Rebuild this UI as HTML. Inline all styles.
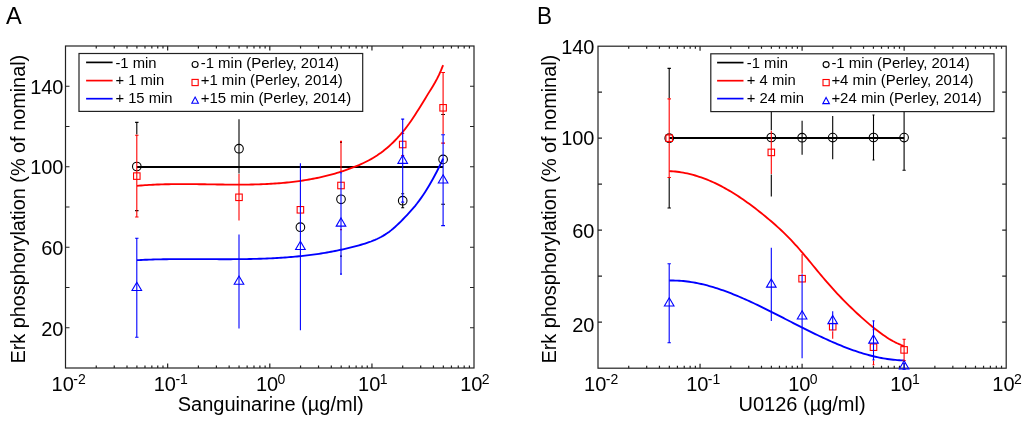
<!DOCTYPE html>
<html><head><meta charset="utf-8"><style>
html,body{margin:0;padding:0;background:#fff;}
svg{display:block;will-change:transform;}
text{font-family:'Liberation Sans',sans-serif;fill:#000;}
</style></head><body>
<svg width="1024" height="422" viewBox="0 0 1024 422">
<rect x="65.5" y="46" width="408.5" height="322" fill="none" stroke="#222" stroke-width="1.2"/>
<path d="M96.25 368v-2.5M96.25 46v2.5M114.24 368v-2.5M114.24 46v2.5M127.00 368v-2.5M127.00 46v2.5M136.90 368v-2.5M136.90 46v2.5M144.99 368v-2.5M144.99 46v2.5M151.83 368v-2.5M151.83 46v2.5M157.75 368v-2.5M157.75 46v2.5M162.98 368v-2.5M162.98 46v2.5M167.65 368v-4.5M167.65 46v4.5M198.40 368v-2.5M198.40 46v2.5M216.39 368v-2.5M216.39 46v2.5M229.15 368v-2.5M229.15 46v2.5M239.05 368v-2.5M239.05 46v2.5M247.14 368v-2.5M247.14 46v2.5M253.98 368v-2.5M253.98 46v2.5M259.90 368v-2.5M259.90 46v2.5M265.13 368v-2.5M265.13 46v2.5M269.80 368v-4.5M269.80 46v4.5M300.55 368v-2.5M300.55 46v2.5M318.54 368v-2.5M318.54 46v2.5M331.30 368v-2.5M331.30 46v2.5M341.20 368v-2.5M341.20 46v2.5M349.29 368v-2.5M349.29 46v2.5M356.13 368v-2.5M356.13 46v2.5M362.05 368v-2.5M362.05 46v2.5M367.28 368v-2.5M367.28 46v2.5M371.95 368v-4.5M371.95 46v4.5M402.70 368v-2.5M402.70 46v2.5M420.69 368v-2.5M420.69 46v2.5M433.45 368v-2.5M433.45 46v2.5M443.35 368v-2.5M443.35 46v2.5M451.44 368v-2.5M451.44 46v2.5M458.28 368v-2.5M458.28 46v2.5M464.20 368v-2.5M464.20 46v2.5M469.43 368v-2.5M469.43 46v2.5M65.5 327.75h4M474 327.75h-4M65.5 287.50h4M474 287.50h-4M65.5 247.25h4M474 247.25h-4M65.5 207.00h4M474 207.00h-4M65.5 166.75h4M474 166.75h-4M65.5 126.50h4M474 126.50h-4M65.5 86.25h4M474 86.25h-4" stroke="#222" stroke-width="1.2" fill="none"/>
<line x1="136.8" y1="167" x2="443.1" y2="167" stroke="#000" stroke-width="1.85"/>
<polyline points="137.00,185.80 139.00,185.63 141.00,185.47 143.00,185.32 145.00,185.18 147.00,185.05 149.00,184.93 151.00,184.82 153.00,184.72 155.00,184.63 157.00,184.54 159.00,184.47 161.00,184.40 163.00,184.34 165.00,184.29 167.00,184.24 169.00,184.21 171.00,184.17 173.00,184.15 175.00,184.13 177.00,184.11 179.00,184.10 181.00,184.10 183.00,184.09 185.00,184.10 187.00,184.11 189.00,184.12 191.00,184.13 193.00,184.15 195.00,184.17 197.00,184.19 199.00,184.21 201.00,184.24 203.00,184.26 205.00,184.29 207.00,184.32 209.00,184.35 211.00,184.38 213.00,184.41 215.00,184.44 217.00,184.46 219.00,184.49 221.00,184.52 223.00,184.54 225.00,184.56 227.00,184.58 229.00,184.60 231.00,184.61 233.00,184.62 235.00,184.63 237.00,184.63 239.00,184.63 241.00,184.62 243.00,184.61 245.00,184.60 247.00,184.58 249.00,184.55 251.00,184.52 253.00,184.48 255.00,184.43 257.00,184.38 259.00,184.32 261.00,184.25 263.00,184.17 265.00,184.09 267.00,183.99 269.00,183.89 271.00,183.78 273.00,183.66 275.00,183.53 277.00,183.39 279.00,183.24 281.00,183.08 283.00,182.90 285.00,182.72 287.00,182.52 289.00,182.32 291.00,182.10 293.00,181.86 295.00,181.62 297.00,181.36 299.00,181.09 301.00,180.80 303.00,180.50 305.00,180.19 307.00,179.86 309.00,179.51 311.00,179.15 313.00,178.78 315.00,178.39 317.00,177.98 319.00,177.55 321.00,177.11 323.00,176.65 325.00,176.18 327.00,175.68 329.00,175.17 331.00,174.64 333.00,174.09 335.00,173.52 337.00,172.93 339.00,172.32 341.00,171.70 343.00,171.05 345.00,170.38 347.00,169.69 349.00,168.98 351.00,168.24 353.00,167.49 355.00,166.70 357.00,165.89 359.00,165.04 361.00,164.16 363.00,163.24 365.00,162.28 367.00,161.27 369.00,160.21 371.00,159.10 373.00,157.93 375.00,156.70 377.00,155.42 379.00,154.06 381.00,152.64 383.00,151.15 385.00,149.58 387.00,147.93 389.00,146.21 391.00,144.39 393.00,142.50 395.00,140.50 397.00,138.42 399.00,136.24 401.00,133.96 403.00,131.57 405.00,129.08 407.00,126.47 409.00,123.76 411.00,120.92 413.00,117.98 415.00,114.94 417.00,111.83 419.00,108.65 421.00,105.42 423.00,102.17 425.00,98.90 427.00,95.63 429.00,92.37 431.00,89.15 433.00,85.91 435.00,82.53 437.00,78.91 439.00,74.92 441.00,70.46 443.00,65.40 443.10,65.12" fill="none" stroke="#ff0000" stroke-width="1.85" stroke-linejoin="round"/>
<polyline points="137.00,260.16 139.00,260.05 141.00,259.96 143.00,259.87 145.00,259.78 147.00,259.71 149.00,259.63 151.00,259.57 153.00,259.51 155.00,259.45 157.00,259.40 159.00,259.35 161.00,259.31 163.00,259.27 165.00,259.24 167.00,259.21 169.00,259.19 171.00,259.16 173.00,259.14 175.00,259.13 177.00,259.12 179.00,259.11 181.00,259.10 183.00,259.09 185.00,259.09 187.00,259.09 189.00,259.09 191.00,259.10 193.00,259.10 195.00,259.11 197.00,259.11 199.00,259.12 201.00,259.13 203.00,259.14 205.00,259.14 207.00,259.15 209.00,259.16 211.00,259.17 213.00,259.18 215.00,259.19 217.00,259.19 219.00,259.20 221.00,259.20 223.00,259.20 225.00,259.20 227.00,259.20 229.00,259.20 231.00,259.20 233.00,259.19 235.00,259.18 237.00,259.16 239.00,259.15 241.00,259.13 243.00,259.10 245.00,259.08 247.00,259.05 249.00,259.01 251.00,258.98 253.00,258.93 255.00,258.88 257.00,258.83 259.00,258.78 261.00,258.71 263.00,258.65 265.00,258.57 267.00,258.49 269.00,258.41 271.00,258.32 273.00,258.22 275.00,258.12 277.00,258.01 279.00,257.89 281.00,257.76 283.00,257.63 285.00,257.49 287.00,257.35 289.00,257.19 291.00,257.03 293.00,256.86 295.00,256.68 297.00,256.49 299.00,256.29 301.00,256.08 303.00,255.87 305.00,255.64 307.00,255.41 309.00,255.17 311.00,254.91 313.00,254.65 315.00,254.37 317.00,254.09 319.00,253.79 321.00,253.48 323.00,253.17 325.00,252.84 327.00,252.49 329.00,252.14 331.00,251.78 333.00,251.40 335.00,251.01 337.00,250.61 339.00,250.19 341.00,249.77 343.00,249.33 345.00,248.87 347.00,248.40 349.00,247.92 351.00,247.43 353.00,246.92 355.00,246.40 357.00,245.86 359.00,245.31 361.00,244.74 363.00,244.15 365.00,243.54 367.00,242.90 369.00,242.22 371.00,241.50 373.00,240.72 375.00,239.89 377.00,238.99 379.00,238.03 381.00,236.98 383.00,235.85 385.00,234.63 387.00,233.32 389.00,231.90 391.00,230.37 393.00,228.73 395.00,227.00 397.00,225.17 399.00,223.27 401.00,221.30 403.00,219.27 405.00,217.19 407.00,215.08 409.00,212.93 411.00,210.73 413.00,208.44 415.00,206.05 417.00,203.53 419.00,200.89 421.00,198.12 423.00,195.22 425.00,192.19 427.00,189.03 429.00,185.73 431.00,182.30 433.00,178.74 435.00,175.04 437.00,171.20 439.00,167.22 441.00,163.10 443.00,158.83 443.10,158.62" fill="none" stroke="#0000ff" stroke-width="1.85" stroke-linejoin="round"/>
<path d="M136.80 122.40V134.60M135.10 122.40h3.4M135.10 210.60h3.4" stroke="#000" stroke-width="1.1" fill="none"/>
<path d="M239.00 119.30V173.50" stroke="#000" stroke-width="1.1" fill="none"/>
<path d="" stroke="#000" stroke-width="1.1" fill="none"/>
<path d="M340.00 142.50h2.0M340.00 256.10h2.0" stroke="#000" stroke-width="1.1" fill="none"/>
<path d="M402.70 202.70V207.70M401.20 193.70h3.0M401.20 207.70h3.0" stroke="#000" stroke-width="1.1" fill="none"/>
<path d="M441.20 114.50h3.8M441.20 204.30h3.8" stroke="#000" stroke-width="1.1" fill="none"/>
<circle cx="136.80" cy="166.50" r="4.3" fill="none" stroke="#000" stroke-width="1.1"/>
<circle cx="239.00" cy="148.70" r="4.3" fill="none" stroke="#000" stroke-width="1.1"/>
<circle cx="300.40" cy="227.20" r="4.3" fill="none" stroke="#000" stroke-width="1.1"/>
<circle cx="341.00" cy="199.30" r="4.3" fill="none" stroke="#000" stroke-width="1.1"/>
<circle cx="402.70" cy="200.70" r="4.3" fill="none" stroke="#000" stroke-width="1.1"/>
<circle cx="443.10" cy="159.40" r="4.3" fill="none" stroke="#000" stroke-width="1.1"/>
<path d="M136.80 135.20V217.00M135.10 135.20h3.4M135.10 217.00h3.4" stroke="#ff0000" stroke-width="1.1" fill="none"/>
<path d="M239.00 174.10V220.50" stroke="#ff0000" stroke-width="1.1" fill="none"/>
<path d="" stroke="#ff0000" stroke-width="1.1" fill="none"/>
<path d="M341.00 141.40V172.10M340.00 141.40h2.0M340.00 229.60h2.0" stroke="#ff0000" stroke-width="1.1" fill="none"/>
<path d="M401.20 133.50h3.0M401.20 155.50h3.0" stroke="#ff0000" stroke-width="1.1" fill="none"/>
<path d="M443.10 72.50V134.20M441.20 72.50h3.8M441.20 143.10h3.8" stroke="#ff0000" stroke-width="1.1" fill="none"/>
<rect x="133.55" y="172.85" width="6.5" height="6.5" fill="none" stroke="#ff0000" stroke-width="1.1"/>
<rect x="235.75" y="194.05" width="6.5" height="6.5" fill="none" stroke="#ff0000" stroke-width="1.1"/>
<rect x="297.15" y="206.55" width="6.5" height="6.5" fill="none" stroke="#ff0000" stroke-width="1.1"/>
<rect x="337.75" y="182.25" width="6.5" height="6.5" fill="none" stroke="#ff0000" stroke-width="1.1"/>
<rect x="399.45" y="141.25" width="6.5" height="6.5" fill="none" stroke="#ff0000" stroke-width="1.1"/>
<rect x="439.85" y="104.55" width="6.5" height="6.5" fill="none" stroke="#ff0000" stroke-width="1.1"/>
<path d="M136.80 238.20V337.20M135.10 238.20h3.4M135.10 337.20h3.4" stroke="#0000ff" stroke-width="1.1" fill="none"/>
<path d="M239.00 234.50V328.50" stroke="#0000ff" stroke-width="1.1" fill="none"/>
<path d="M300.40 163.30V330.30" stroke="#0000ff" stroke-width="1.1" fill="none"/>
<path d="M341.00 172.70V274.10M340.00 172.70h2.0M340.00 274.10h2.0" stroke="#0000ff" stroke-width="1.1" fill="none"/>
<path d="M402.70 119.10V202.10M401.20 119.10h3.0M401.20 202.10h3.0" stroke="#0000ff" stroke-width="1.1" fill="none"/>
<path d="M443.10 134.80V225.60M441.20 134.80h3.8M441.20 225.60h3.8" stroke="#0000ff" stroke-width="1.1" fill="none"/>
<path d="M136.80 282.23L141.60 290.43L132.00 290.43Z" fill="none" stroke="#0000ff" stroke-width="1.1" stroke-linejoin="miter"/>
<path d="M239.00 276.03L243.80 284.23L234.20 284.23Z" fill="none" stroke="#0000ff" stroke-width="1.1" stroke-linejoin="miter"/>
<path d="M300.40 241.33L305.20 249.53L295.60 249.53Z" fill="none" stroke="#0000ff" stroke-width="1.1" stroke-linejoin="miter"/>
<path d="M341.00 217.93L345.80 226.13L336.20 226.13Z" fill="none" stroke="#0000ff" stroke-width="1.1" stroke-linejoin="miter"/>
<path d="M402.70 155.13L407.50 163.33L397.90 163.33Z" fill="none" stroke="#0000ff" stroke-width="1.1" stroke-linejoin="miter"/>
<path d="M443.10 174.73L447.90 182.93L438.30 182.93Z" fill="none" stroke="#0000ff" stroke-width="1.1" stroke-linejoin="miter"/>
<rect x="598" y="46.2" width="408.20000000000005" height="322.0" fill="none" stroke="#222" stroke-width="1.2"/>
<path d="M628.72 368.2v-2.5M628.72 46.2v2.5M646.69 368.2v-2.5M646.69 46.2v2.5M659.44 368.2v-2.5M659.44 46.2v2.5M669.33 368.2v-2.5M669.33 46.2v2.5M677.41 368.2v-2.5M677.41 46.2v2.5M684.24 368.2v-2.5M684.24 46.2v2.5M690.16 368.2v-2.5M690.16 46.2v2.5M695.38 368.2v-2.5M695.38 46.2v2.5M700.05 368.2v-4.5M700.05 46.2v4.5M730.77 368.2v-2.5M730.77 46.2v2.5M748.74 368.2v-2.5M748.74 46.2v2.5M761.49 368.2v-2.5M761.49 46.2v2.5M771.38 368.2v-2.5M771.38 46.2v2.5M779.46 368.2v-2.5M779.46 46.2v2.5M786.29 368.2v-2.5M786.29 46.2v2.5M792.21 368.2v-2.5M792.21 46.2v2.5M797.43 368.2v-2.5M797.43 46.2v2.5M802.10 368.2v-4.5M802.10 46.2v4.5M832.82 368.2v-2.5M832.82 46.2v2.5M850.79 368.2v-2.5M850.79 46.2v2.5M863.54 368.2v-2.5M863.54 46.2v2.5M873.43 368.2v-2.5M873.43 46.2v2.5M881.51 368.2v-2.5M881.51 46.2v2.5M888.34 368.2v-2.5M888.34 46.2v2.5M894.26 368.2v-2.5M894.26 46.2v2.5M899.48 368.2v-2.5M899.48 46.2v2.5M904.15 368.2v-4.5M904.15 46.2v4.5M934.87 368.2v-2.5M934.87 46.2v2.5M952.84 368.2v-2.5M952.84 46.2v2.5M965.59 368.2v-2.5M965.59 46.2v2.5M975.48 368.2v-2.5M975.48 46.2v2.5M983.56 368.2v-2.5M983.56 46.2v2.5M990.39 368.2v-2.5M990.39 46.2v2.5M996.31 368.2v-2.5M996.31 46.2v2.5M1001.53 368.2v-2.5M1001.53 46.2v2.5M598 322.20h4M1006.2 322.20h-4M598 276.20h4M1006.2 276.20h-4M598 230.20h4M1006.2 230.20h-4M598 184.20h4M1006.2 184.20h-4M598 138.20h4M1006.2 138.20h-4M598 92.20h4M1006.2 92.20h-4" stroke="#222" stroke-width="1.2" fill="none"/>
<line x1="669.2" y1="138" x2="904.1" y2="138" stroke="#000" stroke-width="1.85"/>
<polyline points="669.20,171.12 671.20,171.22 673.20,171.36 675.20,171.54 677.20,171.77 679.20,172.03 681.20,172.33 683.20,172.67 685.20,173.04 687.20,173.46 689.20,173.92 691.20,174.41 693.20,174.94 695.20,175.51 697.20,176.11 699.20,176.76 701.20,177.44 703.20,178.15 705.20,178.90 707.20,179.69 709.20,180.51 711.20,181.37 713.20,182.26 715.20,183.18 717.20,184.14 719.20,185.14 721.20,186.17 723.20,187.23 725.20,188.32 727.20,189.45 729.20,190.61 731.20,191.80 733.20,193.02 735.20,194.27 737.20,195.55 739.20,196.86 741.20,198.20 743.20,199.57 745.20,200.96 747.20,202.39 749.20,203.83 751.20,205.31 753.20,206.80 755.20,208.32 757.20,209.87 759.20,211.44 761.20,213.03 763.20,214.64 765.20,216.28 767.20,217.93 769.20,219.61 771.20,221.31 773.20,223.04 775.20,224.81 777.20,226.60 779.20,228.42 781.20,230.29 783.20,232.19 785.20,234.13 787.20,236.11 789.20,238.14 791.20,240.21 793.20,242.33 795.20,244.51 797.20,246.73 799.20,249.00 801.20,251.31 803.20,253.66 805.20,256.04 807.20,258.44 809.20,260.85 811.20,263.28 813.20,265.72 815.20,268.15 817.20,270.58 819.20,273.00 821.20,275.40 823.20,277.77 825.20,280.12 827.20,282.44 829.20,284.72 831.20,286.97 833.20,289.18 835.20,291.37 837.20,293.52 839.20,295.64 841.20,297.74 843.20,299.80 845.20,301.83 847.20,303.84 849.20,305.82 851.20,307.77 853.20,309.69 855.20,311.59 857.20,313.46 859.20,315.30 861.20,317.12 863.20,318.91 865.20,320.67 867.20,322.40 869.20,324.10 871.20,325.77 873.20,327.41 875.20,329.01 877.20,330.57 879.20,332.08 881.20,333.55 883.20,334.98 885.20,336.35 887.20,337.66 889.20,338.92 891.20,340.11 893.20,341.24 895.20,342.30 897.20,343.28 899.20,344.19 901.20,345.01 903.20,345.75 904.10,346.06" fill="none" stroke="#ff0000" stroke-width="1.85" stroke-linejoin="round"/>
<polyline points="669.30,280.54 671.30,280.51 673.30,280.51 675.30,280.55 677.30,280.62 679.30,280.73 681.30,280.87 683.30,281.04 685.30,281.25 687.30,281.49 689.30,281.76 691.30,282.05 693.30,282.38 695.30,282.74 697.30,283.13 699.30,283.54 701.30,283.99 703.30,284.46 705.30,284.95 707.30,285.47 709.30,286.02 711.30,286.59 713.30,287.18 715.30,287.80 717.30,288.43 719.30,289.09 721.30,289.78 723.30,290.48 725.30,291.20 727.30,291.94 729.30,292.70 731.30,293.48 733.30,294.27 735.30,295.08 737.30,295.91 739.30,296.75 741.30,297.61 743.30,298.48 745.30,299.37 747.30,300.26 749.30,301.17 751.30,302.10 753.30,303.03 755.30,303.97 757.30,304.93 759.30,305.89 761.30,306.86 763.30,307.84 765.30,308.83 767.30,309.82 769.30,310.82 771.30,311.83 773.30,312.83 775.30,313.85 777.30,314.87 779.30,315.89 781.30,316.91 783.30,317.93 785.30,318.96 787.30,319.98 789.30,321.01 791.30,322.03 793.30,323.06 795.30,324.08 797.30,325.10 799.30,326.12 801.30,327.13 803.30,328.14 805.30,329.14 807.30,330.14 809.30,331.13 811.30,332.12 813.30,333.09 815.30,334.07 817.30,335.03 819.30,335.98 821.30,336.93 823.30,337.86 825.30,338.78 827.30,339.70 829.30,340.60 831.30,341.49 833.30,342.36 835.30,343.22 837.30,344.07 839.30,344.91 841.30,345.72 843.30,346.53 845.30,347.31 847.30,348.08 849.30,348.83 851.30,349.57 853.30,350.28 855.30,350.98 857.30,351.65 859.30,352.31 861.30,352.94 863.30,353.55 865.30,354.14 867.30,354.71 869.30,355.25 871.30,355.77 873.30,356.27 875.30,356.74 877.30,357.18 879.30,357.60 881.30,357.99 883.30,358.36 885.30,358.69 887.30,359.00 889.30,359.28 891.30,359.53 893.30,359.75 895.30,359.94 897.30,360.09 899.30,360.22 901.30,360.31 903.30,360.37 904.10,360.38" fill="none" stroke="#0000ff" stroke-width="1.85" stroke-linejoin="round"/>
<path d="M669.20 68.40V98.30M669.20 178.10V208.00M667.50 68.40h3.4M667.50 208.00h3.4" stroke="#000" stroke-width="1.1" fill="none"/>
<path d="M771.30 78.50V130.20M771.30 174.60V196.50" stroke="#000" stroke-width="1.1" fill="none"/>
<path d="M802.10 120.70V154.70" stroke="#000" stroke-width="1.1" fill="none"/>
<path d="M832.70 115.90V159.30" stroke="#000" stroke-width="1.1" fill="none"/>
<path d="M873.50 115.00V160.00M872.50 115.00h2.0M872.50 160.00h2.0" stroke="#000" stroke-width="1.1" fill="none"/>
<path d="M904.10 104.90V170.30M902.50 104.90h3.2M902.50 170.30h3.2" stroke="#000" stroke-width="1.1" fill="none"/>
<circle cx="669.20" cy="138.20" r="4.3" fill="none" stroke="#000" stroke-width="1.1"/>
<circle cx="771.30" cy="137.50" r="4.3" fill="none" stroke="#000" stroke-width="1.1"/>
<circle cx="802.10" cy="137.70" r="4.3" fill="none" stroke="#000" stroke-width="1.1"/>
<circle cx="832.70" cy="137.60" r="4.3" fill="none" stroke="#000" stroke-width="1.1"/>
<circle cx="873.50" cy="137.50" r="4.3" fill="none" stroke="#000" stroke-width="1.1"/>
<circle cx="904.10" cy="137.60" r="4.3" fill="none" stroke="#000" stroke-width="1.1"/>
<path d="M669.20 98.90V177.50M667.50 98.90h3.4M667.50 177.50h3.4" stroke="#ff0000" stroke-width="1.1" fill="none"/>
<path d="M771.30 130.80V174.00" stroke="#ff0000" stroke-width="1.1" fill="none"/>
<path d="M802.10 253.90V273.70" stroke="#ff0000" stroke-width="1.1" fill="none"/>
<path d="M832.70 331.20V338.70" stroke="#ff0000" stroke-width="1.1" fill="none"/>
<path d="M873.50 360.50V364.70M872.50 329.70h2.0M872.50 364.70h2.0" stroke="#ff0000" stroke-width="1.1" fill="none"/>
<path d="M904.10 339.20V360.60M902.50 339.20h3.2M902.50 360.60h3.2" stroke="#ff0000" stroke-width="1.1" fill="none"/>
<rect x="665.95" y="134.95" width="6.5" height="6.5" fill="none" stroke="#ff0000" stroke-width="1.1"/>
<rect x="768.05" y="149.15" width="6.5" height="6.5" fill="none" stroke="#ff0000" stroke-width="1.1"/>
<rect x="798.85" y="275.45" width="6.5" height="6.5" fill="none" stroke="#ff0000" stroke-width="1.1"/>
<rect x="829.45" y="323.45" width="6.5" height="6.5" fill="none" stroke="#ff0000" stroke-width="1.1"/>
<rect x="870.25" y="343.95" width="6.5" height="6.5" fill="none" stroke="#ff0000" stroke-width="1.1"/>
<rect x="900.85" y="346.65" width="6.5" height="6.5" fill="none" stroke="#ff0000" stroke-width="1.1"/>
<path d="M669.20 263.80V342.80M667.50 263.80h3.4M667.50 342.80h3.4" stroke="#0000ff" stroke-width="1.1" fill="none"/>
<path d="M771.30 247.80V321.00" stroke="#0000ff" stroke-width="1.1" fill="none"/>
<path d="M802.10 274.30V358.30" stroke="#0000ff" stroke-width="1.1" fill="none"/>
<path d="M832.70 311.20V330.60" stroke="#0000ff" stroke-width="1.1" fill="none"/>
<path d="M873.50 320.90V359.90M872.50 320.90h2.0M872.50 359.90h2.0" stroke="#0000ff" stroke-width="1.1" fill="none"/>
<path d="M904.10 363.20V369.20M902.50 363.20h3.2M902.50 369.20h3.2" stroke="#0000ff" stroke-width="1.1" fill="none"/>
<path d="M669.20 297.83L674.00 306.03L664.40 306.03Z" fill="none" stroke="#0000ff" stroke-width="1.1" stroke-linejoin="miter"/>
<path d="M771.30 278.93L776.10 287.13L766.50 287.13Z" fill="none" stroke="#0000ff" stroke-width="1.1" stroke-linejoin="miter"/>
<path d="M802.10 310.83L806.90 319.03L797.30 319.03Z" fill="none" stroke="#0000ff" stroke-width="1.1" stroke-linejoin="miter"/>
<path d="M832.70 315.43L837.50 323.63L827.90 323.63Z" fill="none" stroke="#0000ff" stroke-width="1.1" stroke-linejoin="miter"/>
<path d="M873.50 334.93L878.30 343.13L868.70 343.13Z" fill="none" stroke="#0000ff" stroke-width="1.1" stroke-linejoin="miter"/>
<path d="M904.10 360.73L908.90 368.93L899.30 368.93Z" fill="none" stroke="#0000ff" stroke-width="1.1" stroke-linejoin="miter"/>
<rect x="79" y="53.5" width="283.7" height="57.900000000000006" fill="#fff" stroke="#222" stroke-width="1.2"/>
<line x1="86.1" y1="62.4" x2="112.6" y2="62.4" stroke="#000" stroke-width="1.7"/>
<text x="115.4" y="67.8" font-size="14.8" text-anchor="start" >-1 min</text>
<text x="200.7" y="67.8" font-size="14.95" text-anchor="start" >-1 min (Perley, 2014)</text>
<line x1="86.1" y1="80.6" x2="112.6" y2="80.6" stroke="#ff0000" stroke-width="1.7"/>
<text x="115.4" y="85.1" font-size="14.8" text-anchor="start" >+ 1 min</text>
<text x="200.7" y="85.1" font-size="14.95" text-anchor="start" >+1 min (Perley, 2014)</text>
<line x1="86.1" y1="98.7" x2="112.6" y2="98.7" stroke="#0000ff" stroke-width="1.7"/>
<text x="115.4" y="102.5" font-size="14.8" text-anchor="start" >+ 15 min</text>
<text x="200.7" y="102.5" font-size="14.95" text-anchor="start" >+15 min (Perley, 2014)</text>
<circle cx="195.10" cy="64.50" r="3.0" fill="none" stroke="#000" stroke-width="1.1"/>
<rect x="192.00" y="79.40" width="6.2" height="6.2" fill="none" stroke="#ff0000" stroke-width="1.1"/>
<path d="M195.10 97.07L198.40 103.27L191.80 103.27Z" fill="none" stroke="#0000ff" stroke-width="1.1" stroke-linejoin="miter"/>
<rect x="710.8" y="53.8" width="283.20000000000005" height="57.8" fill="#fff" stroke="#222" stroke-width="1.2"/>
<line x1="717.1" y1="62.6" x2="743.5" y2="62.6" stroke="#000" stroke-width="1.7"/>
<text x="746.8" y="67.8" font-size="14.8" text-anchor="start" >-1 min</text>
<text x="831.4" y="67.8" font-size="14.95" text-anchor="start" >-1 min (Perley, 2014)</text>
<line x1="717.1" y1="80.7" x2="743.5" y2="80.7" stroke="#ff0000" stroke-width="1.7"/>
<text x="746.8" y="85.1" font-size="14.8" text-anchor="start" >+ 4 min</text>
<text x="831.4" y="85.1" font-size="14.95" text-anchor="start" >+4 min (Perley, 2014)</text>
<line x1="717.1" y1="98.6" x2="743.5" y2="98.6" stroke="#0000ff" stroke-width="1.7"/>
<text x="746.8" y="102.5" font-size="14.8" text-anchor="start" >+ 24 min</text>
<text x="831.4" y="102.5" font-size="14.95" text-anchor="start" >+24 min (Perley, 2014)</text>
<circle cx="826.10" cy="64.60" r="3.0" fill="none" stroke="#000" stroke-width="1.1"/>
<rect x="823.00" y="79.50" width="6.2" height="6.2" fill="none" stroke="#ff0000" stroke-width="1.1"/>
<path d="M826.10 97.47L829.40 103.67L822.80 103.67Z" fill="none" stroke="#0000ff" stroke-width="1.1" stroke-linejoin="miter"/>
<text x="63.5" y="94.1" font-size="20" text-anchor="end" >140</text>
<text x="63.5" y="174.3" font-size="20" text-anchor="end" >100</text>
<text x="63.5" y="255.1" font-size="20" text-anchor="end" >60</text>
<text x="63.5" y="335.6" font-size="20" text-anchor="end" >20</text>
<text x="594.5" y="53.6" font-size="20" text-anchor="end" >140</text>
<text x="594.5" y="145.4" font-size="20" text-anchor="end" >100</text>
<text x="594.5" y="237.5" font-size="20" text-anchor="end" >60</text>
<text x="594.5" y="331.9" font-size="20" text-anchor="end" >20</text>
<text x="51.60" y="390.8" font-size="20">10<tspan font-size="14" dx="-0.6" dy="-6.8">-2</tspan></text>
<text x="153.75" y="390.8" font-size="20">10<tspan font-size="14" dx="-0.6" dy="-6.8">-1</tspan></text>
<text x="255.90" y="390.8" font-size="20">10<tspan font-size="14" dx="-0.6" dy="-6.8">0</tspan></text>
<text x="358.05" y="390.8" font-size="20">10<tspan font-size="14" dx="-0.6" dy="-6.8">1</tspan></text>
<text x="460.20" y="390.8" font-size="20">10<tspan font-size="14" dx="-0.6" dy="-6.8">2</tspan></text>
<text x="584.10" y="390.8" font-size="20">10<tspan font-size="14" dx="-0.6" dy="-6.8">-2</tspan></text>
<text x="686.15" y="390.8" font-size="20">10<tspan font-size="14" dx="-0.6" dy="-6.8">-1</tspan></text>
<text x="788.20" y="390.8" font-size="20">10<tspan font-size="14" dx="-0.6" dy="-6.8">0</tspan></text>
<text x="890.25" y="390.8" font-size="20">10<tspan font-size="14" dx="-0.6" dy="-6.8">1</tspan></text>
<text x="992.30" y="390.8" font-size="20">10<tspan font-size="14" dx="-0.6" dy="-6.8">2</tspan></text>
<text x="177.7" y="410.7" font-size="20" text-anchor="start" >Sanguinarine (µg/ml)</text>
<text x="738.5" y="410.9" font-size="20" text-anchor="start" >U0126 (µg/ml)</text>
<text transform="translate(25.2,363.5) rotate(-90)" font-size="20" textLength="308.7" lengthAdjust="spacingAndGlyphs">Erk phosphorylation (% of nominal)</text>
<text transform="translate(556.0,363.5) rotate(-90)" font-size="20" textLength="308.7" lengthAdjust="spacingAndGlyphs">Erk phosphorylation (% of nominal)</text>
<text transform="translate(6,23.6) scale(0.96,1)" font-size="24.5">A</text>
<text transform="translate(537,23.6) scale(0.92,1)" font-size="24.5">B</text>
</svg>
</body></html>
